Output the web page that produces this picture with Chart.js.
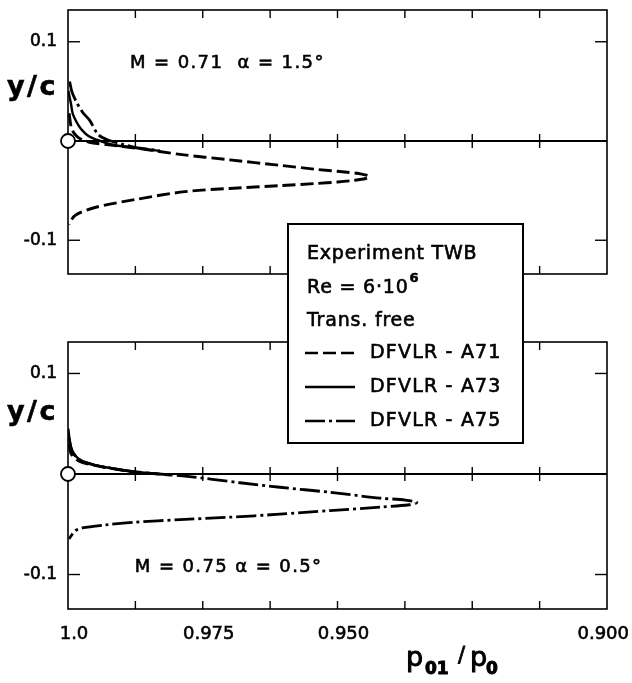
<!DOCTYPE html>
<html>
<head>
<meta charset="utf-8">
<script src="https://cdn.jsdelivr.net/npm/chart.js@4"></script>
<style>
  body { margin: 0; background: #fff; }
  #wrap { position: relative; width: 632px; height: 683px; }
  canvas { position: absolute; left: 0; top: 0; }
</style>
</head>
<body>
<div id="wrap">
  <canvas id="topChart" width="632" height="683"></canvas>
  <canvas id="bottomChart" width="632" height="683"></canvas>
</div>
<script>
// x axis: p01/p0, runs from 1.0 (left) to 0.900 (right)
var xTickValues = [1.0, 0.9875, 0.975, 0.9625, 0.95, 0.9375, 0.925, 0.9125, 0.9];
var xLabelValues = [1.0, 0.975, 0.95, 0.9];
var xLabelTexts = ['1.0', '0.975', '0.950', '0.900'];
var yTickValues = [0.1, -0.1];
var yLabelTexts = ['0.1', '-0.1'];

// panel 1: M = 0.71, alpha = 1.5  (A73 / A75 lie on top of A71 in the wake)
var topA71x = [0.9998, 0.9993, 0.9982, 0.9962, 0.9920, 0.9876, 0.9792, 0.9700, 0.9607, 0.9540, 0.9482, 0.9455, 0.9441, 0.9448, 0.9470, 0.9500, 0.9540, 0.9607, 0.9700, 0.9783, 0.9876, 0.9950, 0.9987, 0.9998];
var topA71y = [0.028, 0.012, 0.004, -0.001, -0.004, -0.007, -0.0135, -0.019, -0.0245, -0.0285, -0.0315, -0.0333, -0.0355, -0.0378, -0.0397, -0.0413, -0.0428, -0.0450, -0.0478, -0.0510, -0.0590, -0.0670, -0.0750, -0.0840];
var topA73x = [0.99995, 0.9994, 0.9991, 0.9982, 0.9974, 0.9962, 0.9950, 0.9920, 0.9876, 0.9830];
var topA73y = [0.051, 0.036, 0.027, 0.017, 0.011, 0.005, 0.002, -0.0035, -0.0068, -0.0100];
var topA75x = [0.9997, 0.9993, 0.9985, 0.9973, 0.9960, 0.9944, 0.9926, 0.9900, 0.9876, 0.9830];
var topA75y = [0.060, 0.050, 0.040, 0.029, 0.021, 0.0065, 0.001, -0.003, -0.0065, -0.0098];

// panel 2: M = 0.75, alpha = 0.5  (A71 / A73 lie under A75 in the wake)
var botA71x = [0.9999, 0.9994, 0.9980, 0.9955, 0.9931, 0.9876, 0.9810];
var botA71y = [0.030, 0.020, 0.013, 0.009, 0.0065, 0.002, -0.001];
var botA73x = [0.99995, 0.9994, 0.9980, 0.9955, 0.9931, 0.9876, 0.9810];
var botA73y = [0.045, 0.026, 0.015, 0.0095, 0.0068, 0.0022, -0.0008];
var botA75x = [0.9998, 0.9992, 0.9978, 0.9953, 0.9929, 0.9874, 0.9783, 0.9681, 0.9607, 0.9514, 0.9421, 0.9374, 0.9353, 0.9367, 0.9421, 0.9514, 0.9607, 0.9700, 0.9792, 0.9876, 0.9931, 0.9974, 0.9987, 0.9998];
var botA75y = [0.036, 0.022, 0.014, 0.0092, 0.0066, 0.0021, -0.0021, -0.0087, -0.0132, -0.0182, -0.0240, -0.0259, -0.0283, -0.0306, -0.0330, -0.0364, -0.0400, -0.0430, -0.0454, -0.0480, -0.0507, -0.0537, -0.0567, -0.0645];

var seriesNames = ['DFVLR - A71', 'DFVLR - A73', 'DFVLR - A75'];
var seriesDash = [[13, 5], [], [20, 4, 3, 4]];
var seriesWidth = [2.9, 2.4, 2.8];

function pts(xs, ys) {
  return xs.map(function (v, i) { return { x: v, y: ys[i] }; });
}

// text with a thin outline so it reads like the plotter lettering
function drawSpaced(ctx, text, x, y, font, spacing, heavy) {
  ctx.font = font;
  ctx.letterSpacing = spacing + 'px';
  ctx.fillText(text, x, y);
  ctx.lineWidth = heavy === undefined ? 0.6 : heavy;
  if (ctx.lineWidth > 0.05) ctx.strokeText(text, x, y);
  ctx.letterSpacing = '0px';
}

var panelDecor = {
  id: 'panelDecor',
  beforeDatasetsDraw(chart, args, opts) {
    const { ctx, chartArea: { left, right, top, bottom }, scales: { x, y } } = chart;
    function line(x1, y1, x2, y2) { ctx.beginPath(); ctx.moveTo(x1, y1); ctx.lineTo(x2, y2); ctx.stroke(); }
    ctx.save();
    ctx.strokeStyle = '#000';
    ctx.lineWidth = 1.6;
    ctx.strokeRect(left, top, right - left, bottom - top);
    const y0 = y.getPixelForValue(0);
    ctx.lineWidth = 2;
    line(left, y0, right, y0);
    ctx.lineWidth = 1.4;
    xTickValues.forEach(function (v) {
      if (v === 1.0 || v === 0.9) return;
      const px = x.getPixelForValue(v);
      line(px, top, px, top + 8);
      line(px, y0 - 7, px, y0 + 7);
      line(px, bottom - 8, px, bottom);
    });
    yTickValues.forEach(function (v) {
      const py = y.getPixelForValue(v);
      line(left, py, left + 12, py);
      line(right - 12, py, right, py);
    });
    ctx.restore();
  },
  afterDraw(chart, args, opts) {
    const { ctx, chartArea: { left, right, top, bottom }, scales: { x, y } } = chart;
    ctx.save();
    ctx.fillStyle = '#000';
    ctx.strokeStyle = '#000';
    ctx.textBaseline = 'middle';
    // y tick labels
    ctx.textAlign = 'right';
    yTickValues.forEach(function (v, i) {
      drawSpaced(ctx, yLabelTexts[i], left - 11, y.getPixelForValue(v), '17px "DejaVu Sans"', 0);
    });
    // y axis title
    ctx.textAlign = 'left';
    drawSpaced(ctx, 'y/c', 7, y.getPixelForValue(opts.yTitleAt), 'bold 27px "DejaVu Sans"', 2.5, 0);
    // case annotation
    drawSpaced(ctx, opts.caseText, x.getPixelForValue(opts.caseAt[0]), y.getPixelForValue(opts.caseAt[1]), '18px "DejaVu Sans"', 1.4);

    if (opts.xLabels) {
      ctx.textAlign = 'center';
      xLabelValues.forEach(function (v, i) {
        ctx.font = '18px "DejaVu Sans"';
        const w = ctx.measureText(xLabelTexts[i]).width;
        const cx = Math.min(x.getPixelForValue(v) + 6, 629 - w / 2);
        drawSpaced(ctx, xLabelTexts[i], cx, bottom + 25, '18px "DejaVu Sans"', 0);
      });
      // axis title p01/p0
      ctx.textAlign = 'left';
      ctx.textBaseline = 'alphabetic';
      drawSpaced(ctx, 'p', 406, 666, '27px "DejaVu Sans"', 0, 1);
      drawSpaced(ctx, '01', 425, 674, 'bold 17px "DejaVu Sans"', 0, 0);
      drawSpaced(ctx, '/', 458, 662, '21px "DejaVu Sans"', 0, 0.8);
      drawSpaced(ctx, 'p', 470, 666, '27px "DejaVu Sans"', 0, 1);
      drawSpaced(ctx, '0', 486, 674, 'bold 17px "DejaVu Sans"', 0, 0);
    }

    if (opts.legend) {
      const bx = 288, by = 224, bw = 235, bh = 219;
      ctx.fillStyle = '#fff';
      ctx.fillRect(bx, by, bw, bh);
      ctx.strokeStyle = '#000';
      ctx.lineWidth = 2;
      ctx.strokeRect(bx, by, bw, bh);
      ctx.fillStyle = '#000';
      ctx.textAlign = 'left';
      ctx.textBaseline = 'middle';
      const f = '19px "DejaVu Sans"';
      drawSpaced(ctx, 'Experiment TWB', 307, 254, f, 0.8);
      drawSpaced(ctx, 'Re = 6\u00b710', 307, 288, f, 0.8);
      ctx.font = f; ctx.letterSpacing = '0.8px';
      const w = ctx.measureText('Re = 6\u00b710').width;
      ctx.letterSpacing = '0px';
      drawSpaced(ctx, '6', 307 + w + 1, 279, 'bold 13px "DejaVu Sans"', 0, 0);
      drawSpaced(ctx, 'Trans. free', 307, 321, f, 0.8);
      const rows = [353, 387, 421];
      seriesNames.forEach(function (name, i) {
        ctx.save();
        ctx.lineWidth = 2.4;
        ctx.setLineDash(seriesDash[i]);
        ctx.beginPath();
        ctx.moveTo(305, rows[i]);
        ctx.lineTo(355, rows[i]);
        ctx.stroke();
        ctx.restore();
        drawSpaced(ctx, name, 370, rows[i], f, 1.2);
      });
    }
    ctx.restore();
  }
};

function makePanel(id, series, yMin, yMax, pad, decor) {
  var datasets = series.map(function (s, i) {
    return {
      label: seriesNames[i],
      data: s,
      showLine: true,
      borderColor: '#000',
      borderWidth: seriesWidth[i],
      borderDash: seriesDash[i],
      pointRadius: 0,
      tension: 0.3,
      fill: false,
      order: [2, 3, 1][i]
    };
  });
  datasets.push({
    label: 'origin',
    data: [{ x: 1.0, y: 0 }],
    showLine: false,
    pointRadius: 7,
    pointBackgroundColor: '#fff',
    pointBorderColor: '#000',
    pointBorderWidth: 1.8,
    clip: false,
    order: 0
  });
  return new Chart(document.getElementById(id), {
    type: 'scatter',
    data: { datasets: datasets },
    options: {
      responsive: false,
      animation: false,
      devicePixelRatio: 1,
      layout: { padding: pad },
      scales: {
        x: { type: 'linear', min: 0.9, max: 1.0, reverse: true, display: false },
        y: { type: 'linear', min: yMin, max: yMax, display: false }
      },
      plugins: {
        legend: { display: false },
        tooltip: { enabled: false },
        panelDecor: decor
      }
    },
    plugins: [panelDecor]
  });
}

makePanel('topChart',
  [pts(topA71x, topA71y), pts(topA73x, topA73y), pts(topA75x, topA75y)],
  -0.134, 0.132,
  { left: 68, top: 10, right: 25, bottom: 409 },
  { caseText: 'M = 0.71  \u03b1 = 1.5\u00b0', caseAt: [0.9885, 0.0783], yTitleAt: 0.053, xLabels: false, legend: false });

makePanel('bottomChart',
  [pts(botA71x, botA71y), pts(botA73x, botA73y), pts(botA75x, botA75y)],
  -0.1343, 0.1313,
  { left: 68, top: 342, right: 25, bottom: 74 },
  { caseText: 'M = 0.75 \u03b1 = 0.5\u00b0', caseAt: [0.9876, -0.0925], yTitleAt: 0.061, xLabels: true, legend: true });
</script>
</body>
</html>
